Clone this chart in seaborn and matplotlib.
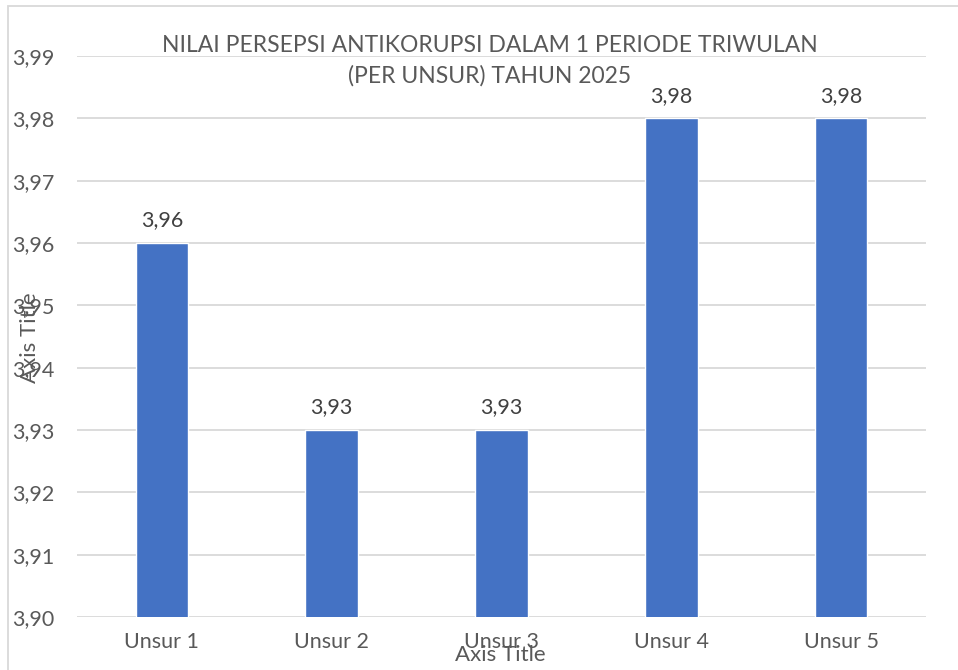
import matplotlib
matplotlib.use("Agg")
import matplotlib.pyplot as plt
import seaborn as sns
import pandas as pd
from matplotlib.ticker import FuncFormatter, MultipleLocator
from matplotlib.patches import Rectangle

# data
unsur = ["Unsur 1", "Unsur 2", "Unsur 3", "Unsur 4", "Unsur 5"]
nilai = [3.96, 3.93, 3.93, 3.98, 3.98]
judul = "NILAI PERSEPSI ANTIKORUPSI DALAM 1 PERIODE TRIWULAN\n(PER UNSUR) TAHUN 2025"

df = pd.DataFrame({"unsur": unsur, "nilai": nilai})

sns.set_style("white")
plt.rcParams["font.family"] = ["Lato", "DejaVu Sans"]
grey = "#595959"

W, H = 958, 670
fig = plt.figure(figsize=(W / 100, H / 100), dpi=100)
ax = fig.add_axes([77 / W, 1 - 617 / H, (926 - 77) / W, (617 - 56) / H])

sns.barplot(data=df, x="unsur", y="nilai", color="#4472C4", width=0.31,
            saturation=1, ax=ax, zorder=3)

ax.set_ylim(3.90, 3.99)
ax.set_xlim(-0.5, 4.5)
ax.yaxis.set_major_locator(MultipleLocator(0.01))
ax.yaxis.set_major_formatter(FuncFormatter(lambda v, p: f"{v:.2f}".replace(".", ",")))
ax.grid(axis="y", color="#D9D9D9", linewidth=1.3, zorder=0)
for s in ax.spines.values():
    s.set_visible(False)
ax.tick_params(axis="both", length=0, labelsize=15.5, colors=grey)
ax.tick_params(axis="y", pad=16)
ax.tick_params(axis="x", pad=11)

for i, v in enumerate(nilai):
    ax.annotate(f"{v:.2f}".replace(".", ","), (i, v), xytext=(0, 9),
                textcoords="offset points", ha="center", va="bottom",
                fontsize=15.5, color="#404040")

ax.set_xlabel("")
ax.set_ylabel("")
fig.text(500 / W, 1 - 655 / H, "Axis Title", ha="center", va="center",
         fontsize=16, color=grey)
fig.text(30 / W, 1 - 338 / H, "Axis Title", ha="center", va="center",
         fontsize=16, color=grey, rotation=90)
fig.text(490 / W, 1 - 61 / H, judul, ha="center", va="center",
         fontsize=16.5, color=grey, linespacing=1.5)

fig.patches.append(Rectangle((8 / W, -0.01), 1, 1 - 6 / H + 0.01,
                             transform=fig.transFigure, fill=False,
                             edgecolor="#D9D9D9", linewidth=1.3))

fig.savefig("out.png", dpi=100)
